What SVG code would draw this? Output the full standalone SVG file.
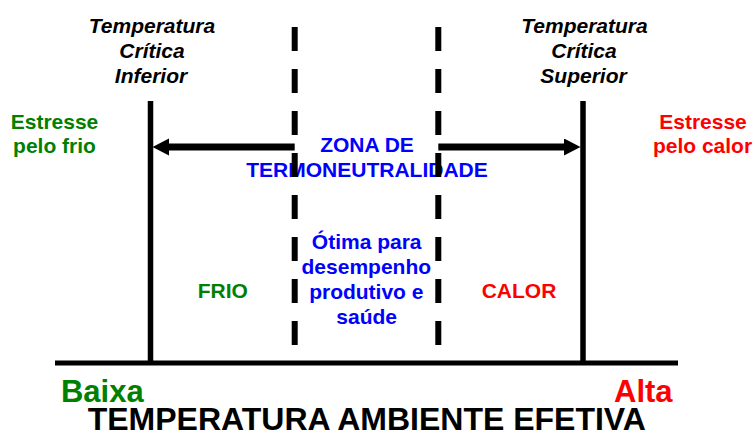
<svg xmlns="http://www.w3.org/2000/svg" width="755" height="437" viewBox="0 0 755 437">
  <style>
    text { font-family: "Liberation Sans", Arial, sans-serif; font-weight: bold; text-anchor: middle; }
    .lbl { font-size: 21px; }
    .it { font-style: italic; fill: #000; }
    .green { fill: #008000; }
    .red { fill: #FF0000; }
    .blue { fill: #0000FF; }
    .big { font-size: 31px; }
    .title { font-size: 32px; fill: #000; }
    .solid { stroke: #000; stroke-width: 5.5; fill: none; }
    .dash { stroke: #000; stroke-width: 6; stroke-dasharray: 24 18; fill: none; }
    .arrow { stroke: #000; stroke-width: 7; fill: none; }
  </style>
  <defs>
    <marker id="ah" markerUnits="userSpaceOnUse" markerWidth="18" markerHeight="18" refX="0" refY="8.5" orient="auto">
      <path d="M0,0 L16.5,8.5 L0,17 Z" fill="#000"/>
    </marker>
  </defs>
  <rect width="755" height="437" fill="#fff"/>

  <g id="axis">
    <line class="solid" x1="55" y1="363" x2="678" y2="363" style="stroke-width:5"/>
  </g>
  <g id="critical-lower">
    <line class="solid" x1="150.5" y1="101" x2="150.5" y2="363"/>
    <text class="lbl it" x="152" y="33">Temperatura</text>
    <text class="lbl it" x="152" y="58">Crítica</text>
    <text class="lbl it" x="151" y="83">Inferior</text>
  </g>
  <g id="critical-upper">
    <line class="solid" x1="583" y1="101" x2="583" y2="363"/>
    <text class="lbl it" x="584.5" y="33">Temperatura</text>
    <text class="lbl it" x="584" y="58">Crítica</text>
    <text class="lbl it" x="583.5" y="83">Superior</text>
  </g>
  <g id="cold-stress">
    <text class="lbl green" x="54.5" y="129">Estresse</text>
    <text class="lbl green" x="54.5" y="152.5">pelo frio</text>
  </g>
  <g id="heat-stress">
    <text class="lbl red" x="703" y="129">Estresse</text>
    <text class="lbl red" x="702.5" y="152.5">pelo calor</text>
  </g>
  <g id="neutral-zone">
    <text class="lbl blue" x="367" y="152">ZONA DE</text>
    <text class="lbl blue" x="367" y="177">TERMONEUTRALIDADE</text>
  </g>
  <g id="optimal">
    <text class="lbl blue" x="366.7" y="249">Ótima para</text>
    <text class="lbl blue" x="366.3" y="274">desempenho</text>
    <text class="lbl blue" x="366.3" y="299">produtivo e</text>
    <text class="lbl blue" x="366.7" y="323.5">saúde</text>
  </g>
  <g id="boundaries">
    <line class="dash" x1="294.7" y1="27" x2="294.7" y2="345"/>
    <line class="dash" x1="438.3" y1="27" x2="438.3" y2="345"/>
  </g>
  <g id="connectors">
    <line class="arrow" x1="294.7" y1="147" x2="169" y2="147" marker-end="url(#ah)"/>
    <line class="arrow" x1="438.3" y1="147" x2="564" y2="147" marker-end="url(#ah)"/>
  </g>
  <g id="cold">
    <text class="lbl green" x="222.8" y="297.5">FRIO</text>
  </g>
  <g id="hot">
    <text class="lbl red" x="519" y="297.5">CALOR</text>
  </g>
  <g id="low">
    <text class="big green" x="102.3" y="401.7">Baixa</text>
  </g>
  <g id="high">
    <text class="big red" x="643.3" y="401.7">Alta</text>
  </g>
  <g id="axis-title">
    <text class="title" x="366.8" y="430">TEMPERATURA AMBIENTE EFETIVA</text>
  </g>
</svg>
